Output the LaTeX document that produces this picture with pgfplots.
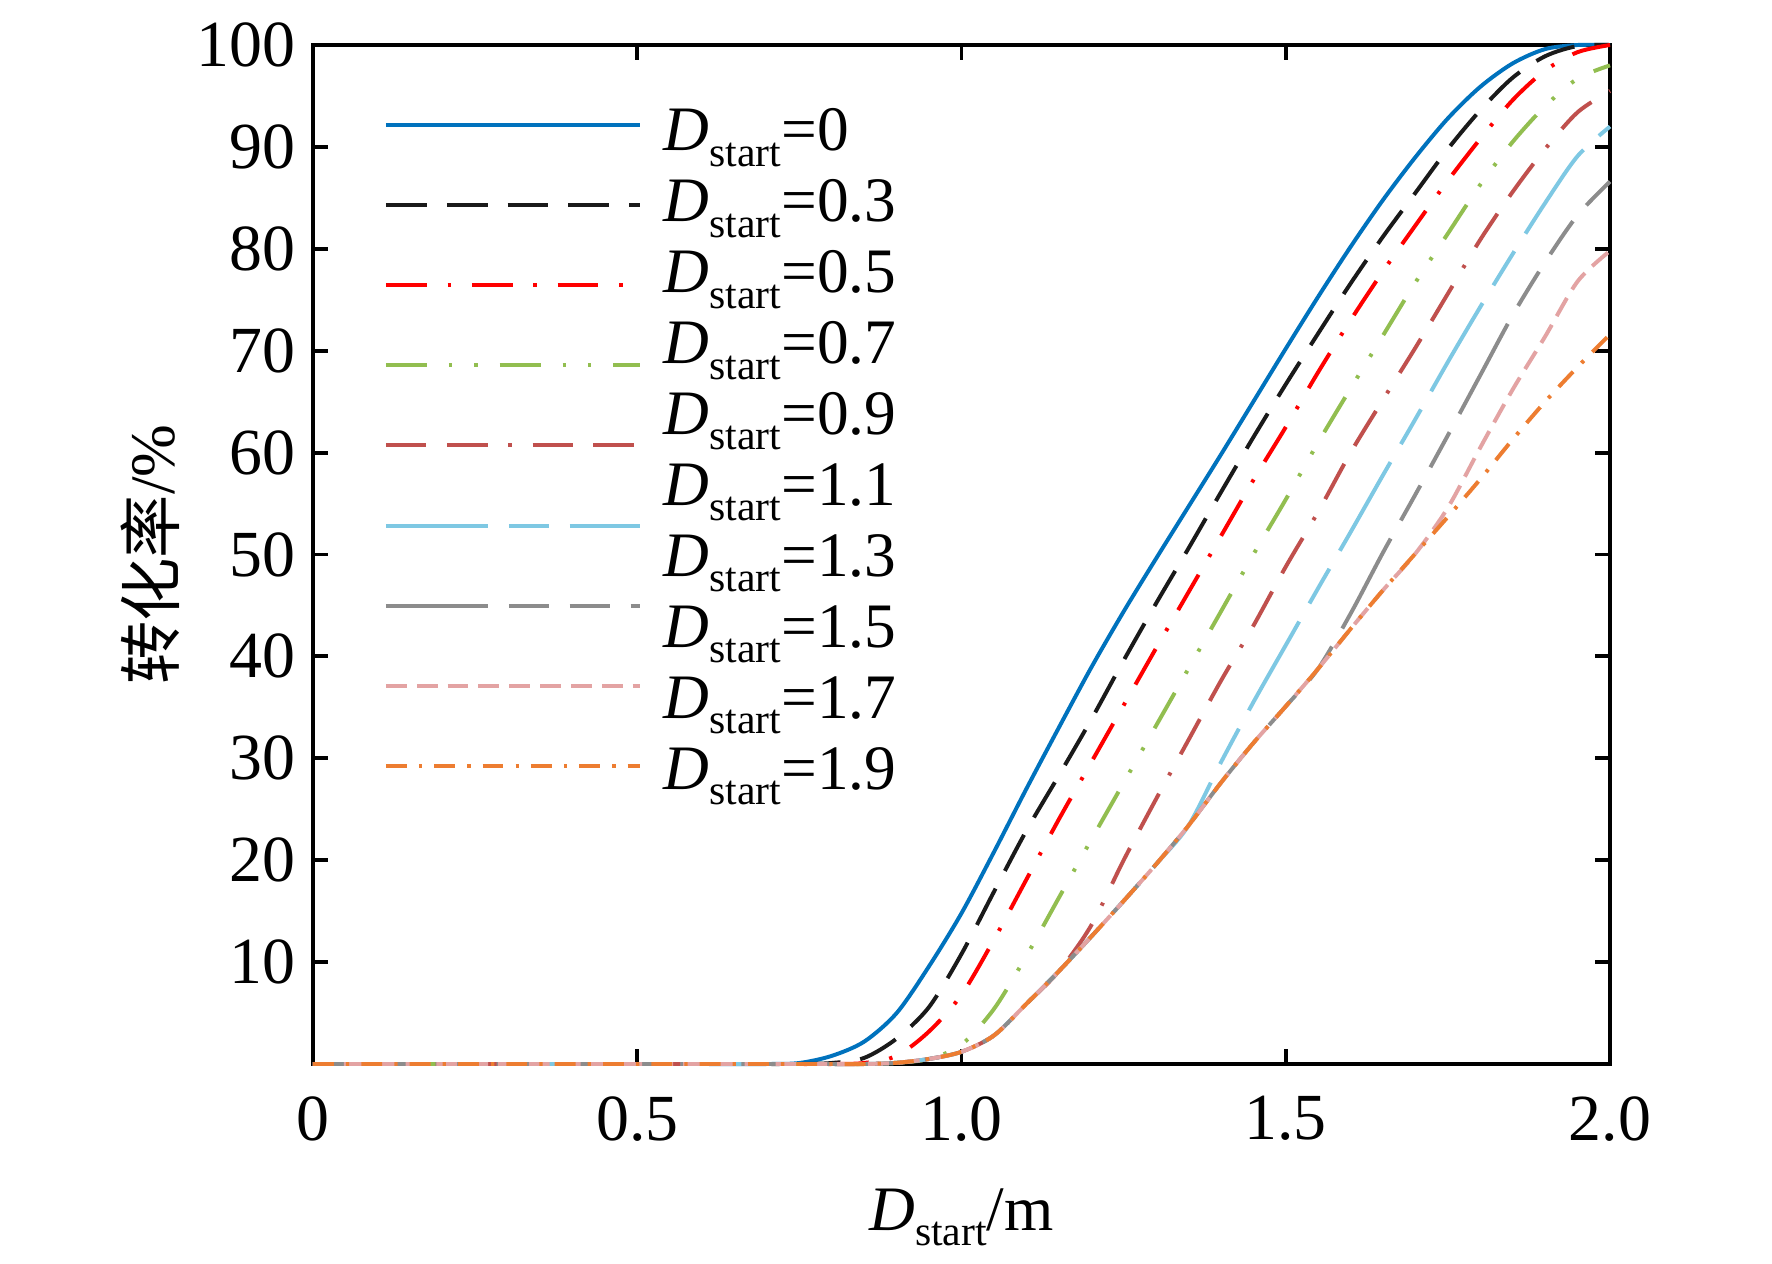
\documentclass[border=0pt]{standalone}
\usepackage{fontspec}
\setmainfont{Liberation Serif}
\newfontfamily\cjk{Noto Sans CJK SC}
\usepackage{pgfplots}
\pgfplotsset{compat=1.18}

\definecolor{cA}{HTML}{0072BD}
\definecolor{cB}{HTML}{1A1A1A}
\definecolor{cC}{HTML}{FF0000}
\definecolor{cD}{HTML}{92BE50}
\definecolor{cE}{HTML}{C0504D}
\definecolor{cF}{HTML}{7EC8E3}
\definecolor{cG}{HTML}{8C8C8C}
\definecolor{cH}{HTML}{E3A3A3}
\definecolor{cI}{HTML}{ED7D31}

\newcommand\tickfs{\fontsize{15.8}{18}\selectfont}
\newcommand\mainfs{\fontsize{15.2}{17}\selectfont}
\newcommand\Ds{\textit{D}\raisebox{-3.7pt}{\fontsize{10}{10}\selectfont start}}

\begin{document}
\begin{tikzpicture}
\useasboundingbox (-75.12pt,-47.76pt) rectangle (350.16pt,255.36pt);
\begin{axis}[
  at={(0,0)}, anchor=south west,
  scale only axis, width=311.28pt, height=244.56pt,
  xmin=0, xmax=2, ymin=0, ymax=100,
  clip=false,
  xtick={0,0.5,1,1.5,2},
  xticklabels={0,0.5,1.0,1.5,2.0},
  ytick={10,20,30,40,50,60,70,80,90,100},
  tick align=inside,
  tick pos=both,
  xticklabel pos=lower,
  yticklabel pos=left,
  major tick length=3.6pt,
  every tick/.style={black, line width=0.95pt},
  axis line style={black, line width=1pt},
  tick label style={font=\tickfs},
  xticklabel style={inner sep=0pt, yshift=-7.6pt},
  yticklabel style={inner sep=0pt, xshift=-4pt},
  /pgf/number format/assume math mode=true,
  label style={font=\mainfs},
  xlabel={\Ds/m},
  xlabel style={at={(axis description cs:0.5,-0.1629)}, anchor=base},
  ylabel={{\cjk 转化率}/\%},
  ylabel style={at={(axis description cs:-0.1257,0.5)}, anchor=center},
  every axis plot/.append style={line width=0.95pt, smooth, tension=0.5},
  legend style={draw=none, fill=none, at={(axis description cs:0.05474,0.9607)}, anchor=north west,
    inner sep=0pt, outer sep=0pt, row sep=0pt,
    nodes={inner sep=0pt, outer sep=0pt, text height=9.61pt, text depth=9.61pt}},
  legend cell align=left,
  legend image code/.code={\draw[#1] (0pt,0pt) -- (61pt,0pt);},
]

% D_start = 0
\addplot[cA, solid] table {
x y
0 0
0.1 0
0.2 0
0.3 0
0.4 0
0.5 0
0.6 0
0.70 0
0.75 0.1
0.80 0.8
0.85 2.2
0.90 5.0
0.95 9.6
1.00 14.8
1.05 20.8
1.10 27.0
1.15 33.0
1.20 38.9
1.25 44.4
1.30 49.6
1.35 54.7
1.40 59.8
1.45 65.0
1.50 70.2
1.55 75.3
1.60 80.2
1.65 84.8
1.70 89.0
1.75 92.8
1.80 95.9
1.85 98.2
1.90 99.6
1.95 100
2.00 100
};
\addlegendentry{\mbox{}}

% D_start = 0.3
\addplot[cB, dash pattern=on 9.8pt off 4.8pt] table {
x y
0 0
0.1 0
0.2 0
0.3 0
0.4 0
0.5 0
0.6 0
0.70 0
0.75 0
0.80 0.1
0.85 0.6
0.90 2.5
0.95 5.6
1.00 10.8
1.05 16.9
1.10 22.9
1.15 28.3
1.20 33.8
1.25 39.6
1.30 45.2
1.35 50.6
1.40 56.1
1.45 61.5
1.50 66.7
1.55 71.7
1.60 76.6
1.65 81.2
1.70 85.5
1.75 89.8
1.80 93.6
1.85 96.8
1.90 98.9
1.95 99.9
2.00 100
};
\addlegendentry{\mbox{}}

% D_start = 0.5
\addplot[cC, dash pattern=on 9.8pt off 5pt on 0.8pt off 5pt] table {
x y
0 0
0.1 0
0.2 0
0.3 0
0.4 0
0.5 0
0.6 0
0.70 0
0.75 0
0.80 0
0.85 0.1
0.90 0.8
0.95 3.2
1.00 6.8
1.05 12.2
1.10 18.1
1.15 24.0
1.20 29.6
1.25 35.2
1.30 40.8
1.35 46.3
1.40 51.8
1.45 57.3
1.50 62.5
1.55 67.9
1.60 73.0
1.65 77.8
1.70 82.3
1.75 86.7
1.80 90.8
1.85 94.6
1.90 97.5
1.95 99.3
2.00 100
};
\addlegendentry{\mbox{}}

% D_start = 0.7
\addplot[cD, dash pattern=on 9.8pt off 5.3pt on 0.8pt off 5.3pt on 0.8pt off 5.3pt] table {
x y
0 0
0.1 0
0.2 0
0.3 0
0.4 0
0.5 0
0.6 0
0.70 0
0.75 0
0.80 0
0.85 0
0.90 0.12
0.95 0.5
1.00 1.9
1.05 5.4
1.10 10.6
1.15 16.3
1.20 22.0
1.25 27.6
1.30 33.2
1.35 38.8
1.40 44.4
1.45 50.0
1.50 55.4
1.55 61.0
1.60 66.3
1.65 71.5
1.70 76.7
1.75 81.5
1.80 86.3
1.85 90.5
1.90 94.0
1.95 96.7
2.00 98.0
};
\addlegendentry{\mbox{}}

% D_start = 0.9
\addplot[cE, dash pattern=on 9.6pt off 5pt on 9.8pt off 5pt on 0.8pt off 5pt] table {
x y
0 0
0.1 0
0.2 0
0.3 0
0.4 0
0.5 0
0.6 0
0.70 0
0.75 0
0.80 0
0.85 0
0.90 0.12
0.95 0.5
1.00 1.2
1.05 2.8
1.10 5.9
1.15 9.1
1.20 13.6
1.25 20.0
1.30 26.0
1.35 31.8
1.40 37.6
1.45 43.0
1.50 48.8
1.55 54.2
1.60 60.0
1.65 65.2
1.70 70.3
1.75 75.6
1.80 80.9
1.85 85.6
1.90 89.8
1.95 93.4
2.00 95.5
};
\addlegendentry{\mbox{}}

% D_start = 1.1
\addplot[cF, dash pattern=on 24.5pt off 5pt on 9.6pt off 5pt] table {
x y
0 0
0.1 0
0.2 0
0.3 0
0.4 0
0.5 0
0.6 0
0.70 0
0.75 0
0.80 0
0.85 0
0.90 0.12
0.95 0.5
1.00 1.2
1.05 2.8
1.10 5.9
1.15 9.1
1.20 12.5
1.25 16.0
1.30 19.6
1.35 23.4
1.40 29.6
1.45 35.5
1.50 41.1
1.55 46.7
1.60 52.2
1.65 57.8
1.70 63.3
1.75 68.9
1.80 74.3
1.85 79.5
1.90 84.5
1.95 89.1
2.00 92.0
};
\addlegendentry{\mbox{}}

% D_start = 1.3
\addplot[cG, dash pattern=on 24.5pt off 5pt on 9.6pt off 5pt on 9.6pt off 5pt] table {
x y
0 0
0.1 0
0.2 0
0.3 0
0.4 0
0.5 0
0.6 0
0.70 0
0.75 0
0.80 0
0.85 0
0.90 0.12
0.95 0.5
1.00 1.2
1.05 2.8
1.10 5.9
1.15 9.1
1.20 12.5
1.25 16.0
1.30 19.6
1.35 23.4
1.40 27.6
1.45 31.5
1.50 35.1
1.55 38.8
1.60 44.2
1.65 50.2
1.70 55.9
1.75 61.7
1.80 67.6
1.85 73.5
1.90 78.7
1.95 83.3
2.00 86.6
};
\addlegendentry{\mbox{}}

% D_start = 1.5
\addplot[cH, dash pattern=on 5pt off 2.4pt] table {
x y
0 0
0.1 0
0.2 0
0.3 0
0.4 0
0.5 0
0.6 0
0.70 0
0.75 0
0.80 0
0.85 0
0.90 0.12
0.95 0.5
1.00 1.2
1.05 2.8
1.10 5.9
1.15 9.1
1.20 12.5
1.25 16.0
1.30 19.6
1.35 23.4
1.40 27.6
1.45 31.5
1.50 35.1
1.55 38.8
1.60 42.7
1.65 46.5
1.70 50.1
1.75 54.6
1.80 60.5
1.85 66.2
1.90 71.4
1.95 76.8
2.00 79.8
};
\addlegendentry{\mbox{}}

% D_start = 1.7 / 1.9 (lower envelope)
\addplot[cI, dash pattern=on 5pt off 2.9pt on 0.8pt off 2.9pt] table {
x y
0 0
0.1 0
0.2 0
0.3 0
0.4 0
0.5 0
0.6 0
0.70 0
0.75 0
0.80 0
0.85 0
0.90 0.12
0.95 0.5
1.00 1.2
1.05 2.8
1.10 5.9
1.15 9.1
1.20 12.5
1.25 16.0
1.30 19.6
1.35 23.4
1.40 27.6
1.45 31.5
1.50 35.1
1.55 38.8
1.60 42.7
1.65 46.5
1.70 50.1
1.75 53.7
1.80 57.4
1.85 61.3
1.90 65.0
1.95 68.4
2.00 71.6
};
\addlegendentry{\mbox{}}

\begin{scope}[every node/.style={anchor=base west, inner sep=0pt, font=\mainfs}]
\node at (axis description cs:0.2699,0.8960) {\Ds=0};
\node at (axis description cs:0.2699,0.8264) {\Ds=0.3};
\node at (axis description cs:0.2699,0.7568) {\Ds=0.5};
\node at (axis description cs:0.2699,0.6872) {\Ds=0.7};
\node at (axis description cs:0.2699,0.6177) {\Ds=0.9};
\node at (axis description cs:0.2699,0.5481) {\Ds=1.1};
\node at (axis description cs:0.2699,0.4785) {\Ds=1.3};
\node at (axis description cs:0.2699,0.4089) {\Ds=1.5};
\node at (axis description cs:0.2699,0.3394) {\Ds=1.7};
\node at (axis description cs:0.2699,0.2698) {\Ds=1.9};
\end{scope}
\end{axis}
\end{tikzpicture}
\end{document}
